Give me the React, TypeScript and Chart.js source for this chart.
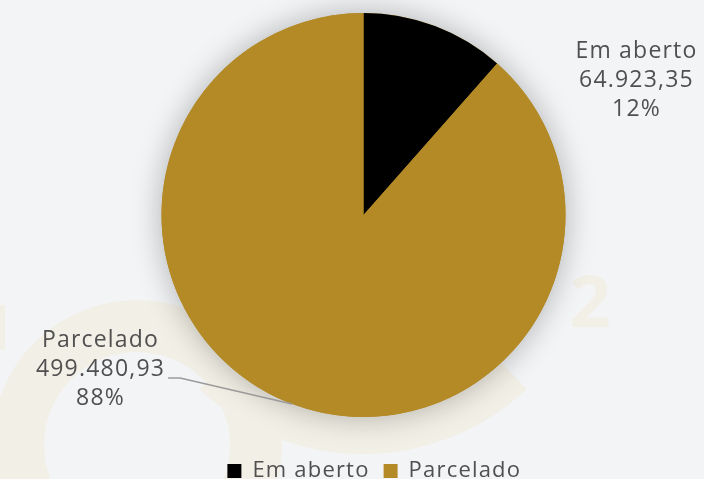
import React, { useEffect, useRef } from "react";
import { Chart, registerables } from "chart.js";

Chart.register(...registerables);

const categories = ["Em aberto", "Parcelado"];
const values = [64923.35, 499480.93];
const colors = ["#000000", "#b38a25"];

const FONT = "'Open Sans', sans-serif";
const TEXT_COLOR = "#505050";
const LETTER_SPACING = "1.2px";
const PIE_CENTER_Y = 215;

function formatBR(v: number): string {
  const fixed = v.toFixed(2);
  const [intPart, dec] = fixed.split(".");
  const withDots = intPart.replace(/\B(?=(\d{3})+(?!\d))/g, ".");
  return withDots + "," + dec;
}

const layoutPlugin = {
  id: "pieArea",
  afterLayout(chart: any) {
    const ca = chart.chartArea;
    ca.top = 2 * PIE_CENTER_Y - ca.bottom;
    ca.height = ca.bottom - ca.top;
  },
};

const backgroundPlugin = {
  id: "bgWatermark",
  beforeDraw(chart: any) {
    const { ctx, width, height } = chart;
    ctx.save();
    ctx.fillStyle = "#f3f4f6";
    ctx.fillRect(0, 0, width, height);
    ctx.strokeStyle = "#f2efe6";
    ctx.lineWidth = 52;
    ctx.beginPath();
    ctx.arc(137, 445, 119, 0, Math.PI * 2);
    ctx.stroke();
    ctx.lineWidth = 38;
    ctx.beginPath();
    ctx.arc(363, 215, 220, Math.PI * 0.26, Math.PI * 0.74);
    ctx.stroke();
    ctx.fillStyle = "#f2efe6";
    ctx.font = "bold 72px " + FONT;
    ctx.textAlign = "center";
    ctx.textBaseline = "middle";
    ctx.fillText("2", 590, 306);
    ctx.fillRect(0, 305, 5, 45);
    ctx.restore();
    (ctx as any).letterSpacing = LETTER_SPACING;
  },
  beforeDatasetsDraw(chart: any) {
    const meta = chart.getDatasetMeta(0);
    const arc = meta.data[0];
    if (!arc) return;
    const { x, y, outerRadius } = arc.getProps(["x", "y", "outerRadius"], true);
    const ctx = chart.ctx;
    ctx.save();
    ctx.shadowColor = "rgba(0,0,0,0.28)";
    ctx.shadowBlur = 30;
    ctx.fillStyle = "#b38a25";
    ctx.beginPath();
    ctx.arc(x, y, outerRadius, 0, Math.PI * 2);
    ctx.fill();
    ctx.restore();
  },
};

const labelOffsets = [
  { dx: 273, dy: -135, connector: false },
  { dx: -263, dy: 154, connector: true },
];

const labelsPlugin = {
  id: "outLabels",
  afterDatasetsDraw(chart: any) {
    const meta = chart.getDatasetMeta(0);
    const ctx = chart.ctx;
    const data = chart.data.datasets[0].data as number[];
    const total = data.reduce((a, b) => a + b, 0);
    meta.data.forEach((el: any, i: number) => {
      const { x, y, startAngle, endAngle, outerRadius } = el.getProps(
        ["x", "y", "startAngle", "endAngle", "outerRadius"],
        true
      );
      const mid = (startAngle + endAngle) / 2;
      const off = labelOffsets[i];
      const lx = x + off.dx;
      const ly = y + off.dy;
      const lines = [
        chart.data.labels[i],
        formatBR(data[i]),
        Math.round((data[i] / total) * 100) + "%",
      ];
      ctx.save();
      (ctx as any).letterSpacing = LETTER_SPACING;
      ctx.font = "23px " + FONT;
      ctx.fillStyle = TEXT_COLOR;
      ctx.textAlign = "center";
      ctx.textBaseline = "middle";
      lines.forEach((t: string, k: number) => {
        ctx.fillText(t, lx, ly + (k - 1) * 29);
      });
      if (off.connector) {
        const w = ctx.measureText(lines[1]).width;
        const sx = lx + w / 2 + 3;
        const ex = x + Math.cos(mid) * outerRadius;
        const ey = y + Math.sin(mid) * outerRadius;
        ctx.strokeStyle = "#9a9a9a";
        ctx.lineWidth = 1.5;
        ctx.beginPath();
        ctx.moveTo(sx, ly + 9);
        ctx.lineTo(sx + 12, ly + 9);
        ctx.lineTo(ex, ey);
        ctx.stroke();
      }
      ctx.restore();
    });
  },
};

export default function App() {
  const ref = useRef<HTMLCanvasElement | null>(null);
  useEffect(() => {
    document.body.style.margin = "0";
    const canvas = ref.current!;
    const chart = new Chart(canvas, {
      type: "pie",
      data: {
        labels: categories,
        datasets: [
          {
            data: values,
            backgroundColor: colors,
            borderWidth: 0,
            radius: 202,
          },
        ],
      },
      options: {
        responsive: false,
        animation: false,
        devicePixelRatio: 1,
        layout: { padding: { left: 23, top: 0, right: 0, bottom: -13 } },
        plugins: {
          tooltip: { enabled: false },
          legend: {
            position: "bottom",
            labels: {
              font: { family: FONT, size: 22 },
              color: TEXT_COLOR,
              boxWidth: 14,
              boxHeight: 14,
              padding: 14,
            },
          },
        },
      },
      plugins: [layoutPlugin, backgroundPlugin, labelsPlugin],
    });
    return () => chart.destroy();
  }, []);
  return (
    <div style={{ width: 704, height: 479, overflow: "hidden" }}>
      <canvas ref={ref} width={704} height={479} style={{ display: "block" }} />
    </div>
  );
}
